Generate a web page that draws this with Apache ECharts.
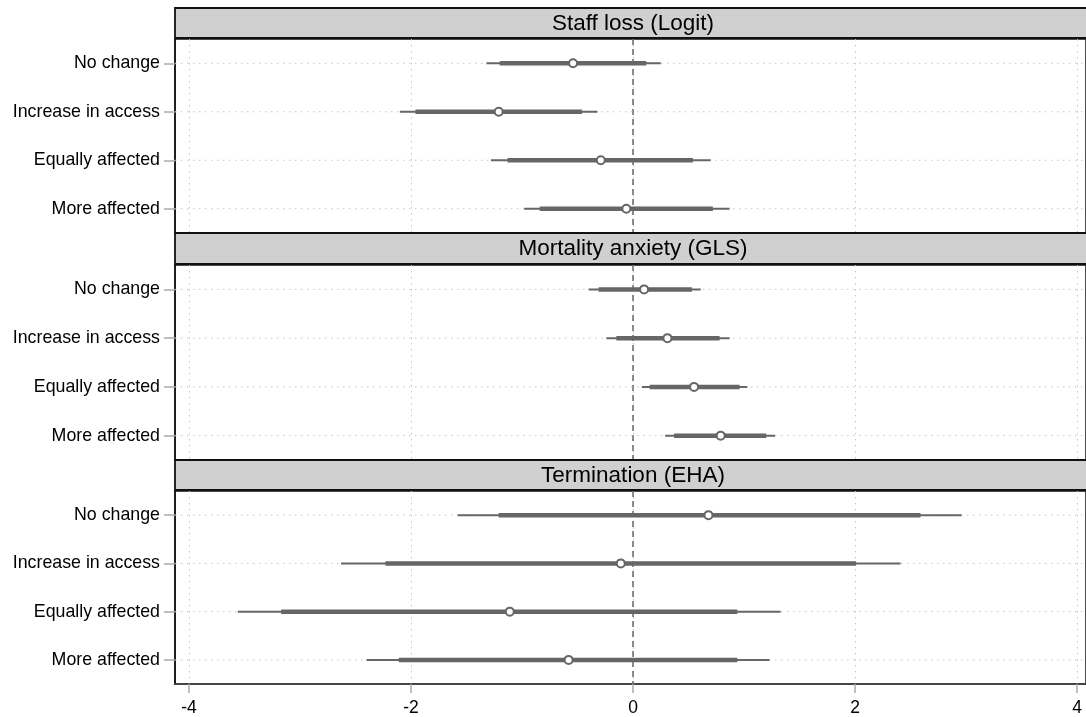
<!DOCTYPE html>
<html>
<head>
<meta charset="utf-8">
<script src="https://cdn.jsdelivr.net/npm/echarts@6/dist/echarts.min.js"></script>
<style>
html,body{margin:0;padding:0;background:#fff;}
#chart{width:1086px;height:717px;}
</style>
</head>
<body>
<div id="chart"></div>
<script>
// ---- data ----
const categories = ['No change', 'Increase in access', 'Equally affected', 'More affected'];
const panelTitles = ['Staff loss (Logit)', 'Mortality anxiety (GLS)', 'Termination (EHA)'];
const xTicks = [-4, -2, 0, 2, 4];
const refValue = 0;

// Staff loss (Logit)
const staffLo95 = [-1.32, -2.10, -1.28, -0.98];
const staffLo90 = [-1.20, -1.96, -1.13, -0.84];
const staffEst  = [-0.54, -1.21, -0.29, -0.06];
const staffHi90 = [ 0.12, -0.46,  0.54,  0.72];
const staffHi95 = [ 0.25, -0.32,  0.70,  0.87];

// Mortality anxiety (GLS)
const mortLo95 = [-0.40, -0.24, 0.08, 0.29];
const mortLo90 = [-0.31, -0.15, 0.15, 0.37];
const mortEst  = [ 0.10,  0.31, 0.55, 0.79];
const mortHi90 = [ 0.53,  0.78, 0.96, 1.20];
const mortHi95 = [ 0.61,  0.87, 1.03, 1.28];

// Termination (EHA)
const termLo95 = [-1.58, -2.63, -3.56, -2.40];
const termLo90 = [-1.21, -2.23, -3.17, -2.11];
const termEst  = [ 0.68, -0.11, -1.11, -0.58];
const termHi90 = [ 2.59,  2.01,  0.94,  0.94];
const termHi95 = [ 2.96,  2.41,  1.33,  1.23];

const panels = [
  [staffLo95, staffLo90, staffEst, staffHi90, staffHi95],
  [mortLo95, mortLo90, mortEst, mortHi90, mortHi95],
  [termLo95, termLo90, termEst, termHi90, termHi95]
];

// ---- layout ----
const FONT = '"Liberation Sans", Arial, Helvetica, sans-serif';
const GRID_LEFT = 175, GRID_WIDTH = 911;
const grids = [
  {top: 39, height: 194, headTop: 8},
  {top: 265, height: 195, headTop: 233},
  {top: 491, height: 194, headTop: 460}
];
const X_MIN = -4.126, X_MAX = 4.081;
const LINE = '#666666';

// guide line + 95% CI (thin) + 90% CI (thick)
function renderCI(params, api) {
  const cat = api.value(5);
  const lo95 = api.coord([api.value(0), cat]);
  const lo90 = api.coord([api.value(1), cat]);
  const hi90 = api.coord([api.value(3), cat]);
  const hi95 = api.coord([api.value(4), cat]);
  const y = lo95[1];
  const cs = params.coordSys;
  return {
    type: 'group',
    children: [
      {type: 'line', shape: {x1: cs.x, y1: y, x2: cs.x + cs.width, y2: y},
       style: {stroke: '#c4c4c4', lineWidth: 1, lineDash: [1.5, 4.5]}},
      {type: 'line', shape: {x1: lo95[0], y1: y, x2: hi95[0], y2: y},
       style: {stroke: LINE, lineWidth: 2}},
      {type: 'line', shape: {x1: lo90[0], y1: y, x2: hi90[0], y2: y},
       style: {stroke: LINE, lineWidth: 4.5}}
    ]
  };
}

// vertical reference line at x = refValue
function renderRef(params, api) {
  const cs = params.coordSys;
  const x = api.coord([api.value(0), 0])[0];
  return {
    type: 'line',
    shape: {x1: x, y1: cs.y, x2: x, y2: cs.y + cs.height},
    style: {stroke: LINE, lineWidth: 1.5, lineDash: [6, 4]}
  };
}

const option = {
  animation: false,
  backgroundColor: '#fff',
  grid: grids.map(g => ({
    left: GRID_LEFT, width: GRID_WIDTH, top: g.top, height: g.height,
    show: true, borderColor: '#111', borderWidth: 1.5, backgroundColor: '#fff'
  })),
  xAxis: grids.map((g, i) => ({
    type: 'value', gridIndex: i, min: X_MIN, max: X_MAX,
    axisLine: {show: i === 2, onZero: false, lineStyle: {color: '#444', width: 1.5}},
    axisTick: {show: i === 2, customValues: xTicks, length: 9, lineStyle: {color: '#aaa', width: 1.5}},
    axisLabel: {show: i === 2, customValues: xTicks, fontFamily: FONT, fontSize: 17.5, color: '#000', margin: 15},
    splitLine: {show: true, lineStyle: {color: '#c4c4c4', width: 1, type: [1.5, 4.5]}}
  })),
  yAxis: grids.map((g, i) => ({
    type: 'category', gridIndex: i, data: categories, inverse: true,
    axisLine: {show: true, onZero: false, lineStyle: {color: '#111', width: 1.5}},
    axisTick: {show: true, alignWithLabel: true, length: 11, lineStyle: {color: '#aaa', width: 1.5}},
    axisLabel: {fontFamily: FONT, fontSize: 17.8, color: '#000', margin: 15},
    splitLine: {show: false}
  })),
  graphic: grids.map((g, i) => ({
    type: 'group',
    children: [
      {type: 'rect', shape: {x: GRID_LEFT, y: g.headTop, width: GRID_WIDTH + 10, height: g.top - g.headTop - 1},
       style: {fill: '#d0d0d0', stroke: '#111', lineWidth: 1.8}, z: 10},
      {type: 'text', x: 633, y: g.headTop + (g.top - g.headTop) / 2,
       style: {text: panelTitles[i], font: '22.5px ' + FONT, fill: '#000', textAlign: 'center', textVerticalAlign: 'middle'}, z: 11}
    ]
  })),
  series: []
};

panels.forEach((p, i) => {
  const ciData = categories.map((c, k) => [p[0][k], p[1][k], p[2][k], p[3][k], p[4][k], k]);
  option.series.push({
    type: 'custom', xAxisIndex: i, yAxisIndex: i, silent: true,
    renderItem: renderRef, data: [[refValue]], encode: {x: 0}, z: 1
  });
  option.series.push({
    type: 'custom', xAxisIndex: i, yAxisIndex: i,
    renderItem: renderCI, data: ciData, silent: true,
    encode: {x: [0, 4], y: 5}, z: 2
  });
  option.series.push({
    type: 'scatter', xAxisIndex: i, yAxisIndex: i, silent: true,
    data: categories.map((c, k) => [p[2][k], k]),
    symbol: 'circle', symbolSize: 8,
    itemStyle: {color: '#ffffff', borderColor: LINE, borderWidth: 2, opacity: 1},
    z: 5
  });
});

const chart = echarts.init(document.getElementById('chart'), null, {renderer: 'canvas'});
chart.setOption(option);
</script>
</body>
</html>
